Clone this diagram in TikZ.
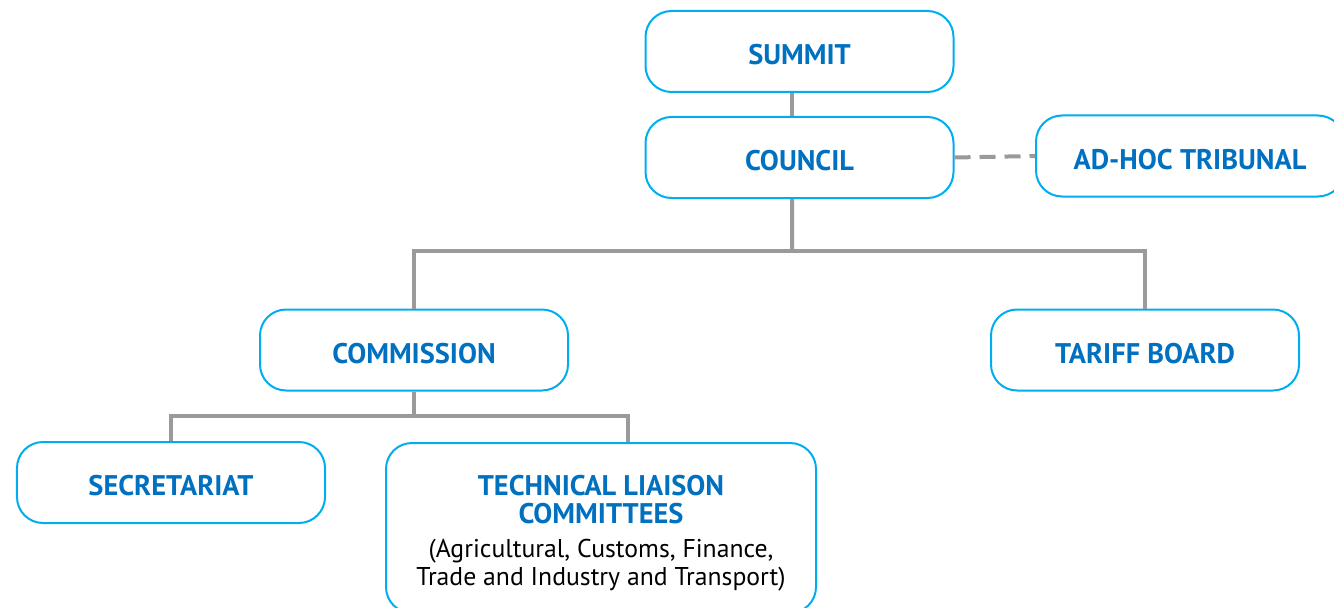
\documentclass[tikz,border=0pt]{standalone}
\usepackage{fontspec}
\setmainfont{PT Sans}
\definecolor{bordc}{HTML}{00AEEF}
\definecolor{txtc}{HTML}{0070C0}
\definecolor{linec}{HTML}{9A9A9A}
\begin{document}
\begin{tikzpicture}[x=1bp,y=-1bp,
  box/.style={draw=bordc, line width=2bp, rounded corners=26bp, fill=white,
    minimum width=308bp, minimum height=81bp, inner sep=0pt,
    font=\fontsize{28.5}{29}\selectfont\bfseries, text=txtc, align=center},
  sbox/.style={box, text height=27bp},
  conn/.style={draw=linec, line width=4bp},
  dconn/.style={conn, dash pattern=on 16bp off 9bp}]
\useasboundingbox (0,0) rectangle (1334,608);
\begin{scope}
\clip (0,0) rectangle (1334,608);
\node[sbox] (summit) at (799.5,51.5) {SUMMIT};
\node[sbox] (council) at (799.5,157.5) {COUNCIL};
\node[sbox] (tribunal) at (1190,156) {AD-HOC TRIBUNAL};
\node[sbox] (commission) at (414,350) {COMMISSION};
\node[sbox] (tariff) at (1145,350) {TARIFF BOARD};
\node[sbox] (secretariat) at (171,482.5) {SECRETARIAT};
\node[box, minimum width=430bp, minimum height=170bp] (tlc) at (601,528)
  {\rule{0pt}{31bp}TECHNICAL LIAISON\\[-1bp]COMMITTEES\\[5bp]
   {\fontsize{25.8}{28}\selectfont\mdseries\color{black}(Agricultural, Customs, Finance,}\\[-1bp]
   {\fontsize{25.8}{28}\selectfont\mdseries\color{black}Trade and Industry and Transport)}};
\coordinate (bar) at (792,251);
\coordinate (split) at (414,416);
\draw[conn] ([xshift=-7.5bp]summit.south) -- ([xshift=-7.5bp]council.north);
\draw[conn] ([xshift=-7.5bp]council.south) -- (bar);
\draw[conn] (commission.north) |- (bar) -| (tariff.north);
\draw[conn] (commission.south) -- (split);
\draw[conn] (secretariat.north) |- (split) -| ([xshift=27bp]tlc.north);
\draw[dconn] (council.east) -- (tribunal.west);
\end{scope}
\end{tikzpicture}
\end{document}
